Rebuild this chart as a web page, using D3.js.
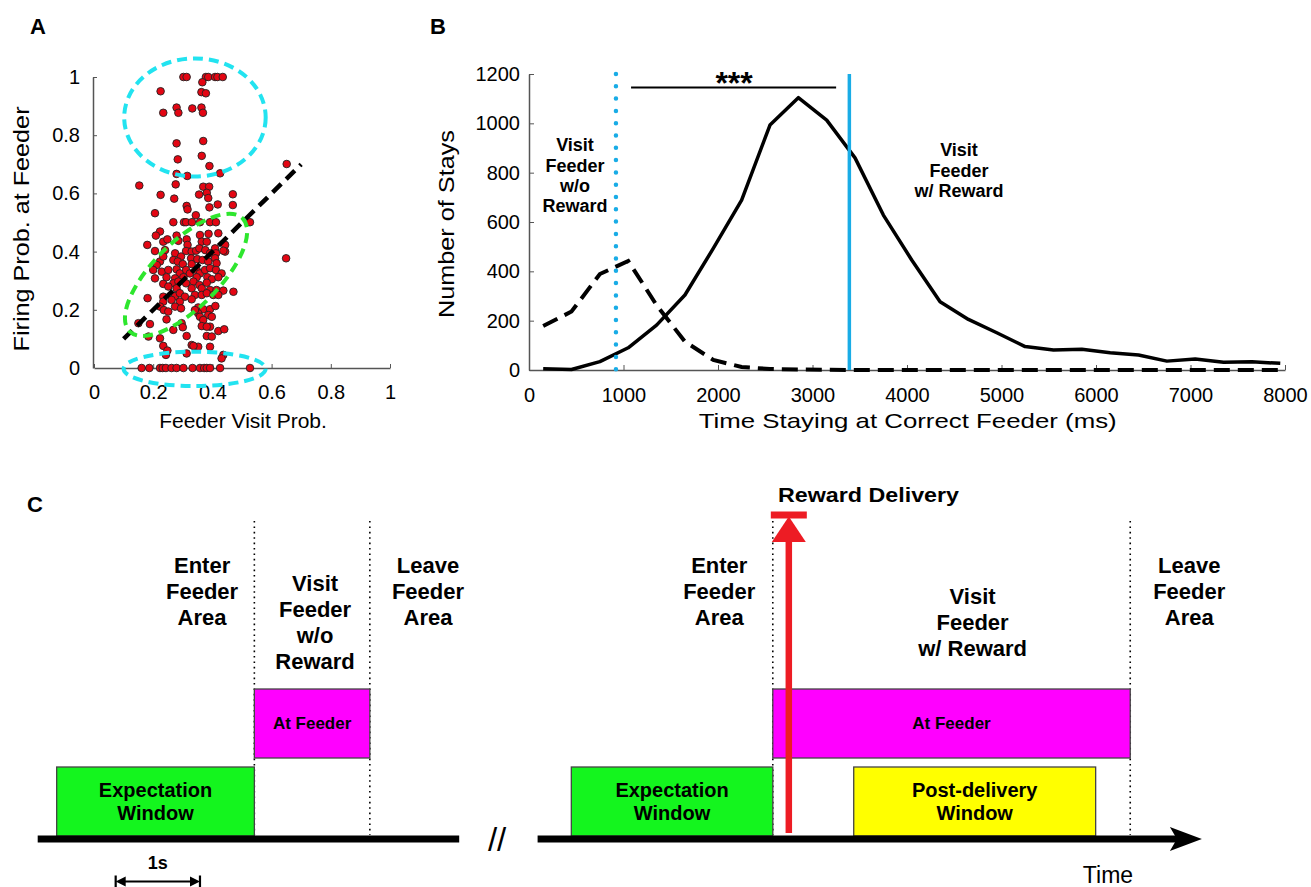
<!DOCTYPE html>
<html>
<head>
<meta charset="utf-8">
<script src="https://cdn.jsdelivr.net/npm/d3@7"></script>
<style>
  body { margin: 0; background: #fff; }
  svg text { font-family: "Liberation Sans", Arial, sans-serif; fill: #000; }
</style>
</head>
<body>
<script>
// ---- panel A data: feeder visit prob vs firing prob (one pair per cell)
const scatterPts = [
  [0.302,1],[0.313,1],[0.378,1],[0.386,1],[0.409,1],[0.417,1],[0.435,1],
  [0.366,0.982],[0.225,0.951],[0.363,0.948],[0.378,0.944],[0.279,0.895],[0.363,0.895],
  [0.234,0.877],[0.285,0.877],[0.332,0.892],[0.368,0.877],
  [0.279,0.772],[0.369,0.780],[0.364,0.729],[0.283,0.717],[0.390,0.694],[0.279,0.667],
  [0.315,0.660],[0.426,0.669],[0.651,0.701],
  [0.153,0.627],[0.276,0.631],[0.369,0.623],[0.389,0.623],[0.225,0.595],[0.271,0.582],
  [0.355,0.596],[0.381,0.602],[0.386,0.584],[0.469,0.597],
  [0.313,0.557],[0.316,0.545],[0.418,0.562],[0.390,0.552],[0.469,0.560],[0.206,0.532],[0.344,0.525],
  [0.268,0.501],[0.304,0.501],[0.311,0.501],[0.331,0.501],[0.358,0.501],[0.392,0.501],[0.412,0.501],[0.527,0.501],
  [0.223,0.469],[0.209,0.455],[0.180,0.423],[0.234,0.434],[0.248,0.442],[0.279,0.455],[0.285,0.437],
  [0.313,0.442],[0.316,0.423],[0.358,0.457],[0.387,0.461],[0.364,0.434],[0.381,0.434],[0.420,0.463],
  [0.443,0.423],[0.443,0.400],[0.409,0.411],
  [0.206,0.402],[0.240,0.405],[0.274,0.394],[0.311,0.402],[0.294,0.383],[0.330,0.400],[0.345,0.403],
  [0.356,0.411],[0.376,0.405],[0.392,0.394],[0.412,0.394],[0.437,0.403],
  [0.223,0.366],[0.268,0.371],[0.283,0.366],[0.300,0.357],[0.328,0.377],[0.330,0.357],[0.349,0.374],
  [0.367,0.371],[0.386,0.366],[0.409,0.377],[0.414,0.360],[0.212,0.354],[0.234,0.383],
  [0.200,0.337],[0.229,0.331],[0.251,0.337],[0.279,0.339],[0.290,0.325],[0.311,0.337],[0.324,0.325],
  [0.347,0.337],[0.358,0.325],[0.375,0.337],[0.392,0.343],[0.412,0.337],[0.431,0.325],[0.206,0.308],
  [0.245,0.312],[0.274,0.308],[0.302,0.312],[0.347,0.312],[0.383,0.312],[0.398,0.305],[0.420,0.312],
  [0.234,0.289],[0.268,0.291],[0.285,0.297],[0.311,0.291],[0.336,0.297],[0.330,0.274],[0.356,0.285],
  [0.364,0.274],[0.381,0.293],[0.392,0.268],[0.414,0.268],[0.437,0.266],[0.471,0.262],[0.279,0.274],[0.251,0.280],
  [0.181,0.240],[0.234,0.245],[0.274,0.247],[0.290,0.257],[0.307,0.245],[0.341,0.251],[0.364,0.251],
  [0.381,0.257],[0.403,0.251],[0.420,0.251],[0.234,0.228],[0.262,0.234],[0.290,0.228],[0.330,0.236],
  [0.223,0.211],[0.236,0.199],[0.274,0.211],[0.294,0.205],[0.352,0.208],[0.369,0.202],[0.392,0.202],
  [0.410,0.213],[0.251,0.194],[0.352,0.188],[0.386,0.182],[0.398,0.176],[0.341,0.199],
  [0.150,0.154],[0.189,0.151],[0.245,0.167],[0.296,0.154],[0.358,0.176],[0.369,0.165],[0.392,0.142],
  [0.364,0.144],[0.300,0.140],[0.268,0.131],[0.420,0.127],[0.440,0.133],[0.381,0.142],
  [0.184,0.108],[0.223,0.102],[0.313,0.110],[0.381,0.110],[0.398,0.108],[0.352,0.073],[0.330,0.079],
  [0.234,0.076],[0.248,0.060],[0.336,0.076],[0.392,0.073],[0.437,0.045],[0.431,0.033],[0.243,0.045],[0.313,0.050],
  [0.649,0.377],
  [0.161,0],[0.187,0],[0.223,0],[0.232,0],[0.243,0],[0.262,0],[0.279,0],[0.302,0],
  [0.333,0],[0.358,0],[0.372,0],[0.381,0],[0.392,0],[0.426,0],[0.527,0]
];
const fitLine = [[0.1, 0.1], [0.7, 0.7]];
const probTicks = [0, 0.2, 0.4, 0.6, 0.8, 1];

// ---- panel B data: histogram of stay durations (bin centres, ms)
const stayBins = [150,450,750,1050,1350,1650,1950,2250,2550,2850,3150,3450,3750,4050,
                  4350,4650,4950,5250,5550,5850,6150,6450,6750,7050,7350,7650,7950];
const rewardStays = [5,2,34,90,182,304,493,689,993,1104,1013,860,628,446,
                     277,205,151,95,81,84,70,61,36,45,31,33,27];
const noRewardStays = [178,237,389,442,263,115,41,12,4,2,1,0,0,0,
                       0,0,0,0,0,0,0,0,0,0,0,0,0];
const noRewardMark = 920, rewardMark = 3390;
const sigSpan = [1080, 3250];
const timeTicks = d3.range(0, 8001, 1000);
const countTicks = d3.range(0, 1201, 200);

// ---- panel C: schematic timeline (seconds)
const timeAxes = [[0, 5], [5.93, 13.81]];
const windows = [
  {start: 0.225, end: 2.57, row: 0, label: ["Expectation", "Window"], fill: "#14f51e"},
  {start: 2.57,  end: 3.94, row: 1, label: ["At Feeder"], fill: "#ff00ff"},
  {start: 6.33,  end: 8.72, row: 0, label: ["Expectation", "Window"], fill: "#14f51e"},
  {start: 8.72,  end: 12.96, row: 1, label: ["At Feeder"], fill: "#ff00ff"},
  {start: 9.68,  end: 12.55, row: 0, label: ["Post-delivery", "Window"], fill: "#ffff00"}
];
const eventLines = [2.57, 3.94, 8.72, 12.96];
const eventLabels = [
  {t: 1.95,  lines: ["Enter", "Feeder", "Area"]},
  {t: 3.29,  lines: ["Visit", "Feeder", "w/o", "Reward"], top: true},
  {t: 4.63,  lines: ["Leave", "Feeder", "Area"]},
  {t: 8.085, lines: ["Enter", "Feeder", "Area"]},
  {t: 11.09, lines: ["Visit", "Feeder", "w/ Reward"], mid: true},
  {t: 13.66, lines: ["Leave", "Feeder", "Area"]}
];
const rewardTime = 8.91;
const scaleBar = [0.925, 1.925];

const W = 1311, H = 887;
const svg = d3.select("body").append("svg").attr("width", W).attr("height", H);
svg.append("rect").attr("width", W).attr("height", H).attr("fill", "#fff");

const panelLetter = (txt, x, y) => svg.append("text").attr("x", x).attr("y", y)
  .attr("font-size", 22).attr("font-weight", "bold").attr("text-anchor", "middle").text(txt);

// ================= PANEL A =================
const xA = d3.scaleLinear().domain([0, 1]).range([94, 390]);
const yA = d3.scaleLinear().domain([0, 1]).range([368, 77]);
const gA = svg.append("g");

const axXA = gA.append("g").attr("transform", "translate(0,368)")
  .call(d3.axisBottom(xA).tickValues(probTicks).tickFormat(d3.format("~g"))
    .tickSizeInner(-4).tickSizeOuter(0).tickPadding(17));
const axYA = gA.append("g").attr("transform", "translate(93,0)")
  .call(d3.axisLeft(yA).tickValues(probTicks).tickFormat(d3.format("~g"))
    .tickSizeInner(-4).tickSizeOuter(0).tickPadding(13));
[axXA, axYA].forEach(a => {
  a.select(".domain").attr("stroke", "#555").attr("stroke-width", 1.5);
  a.selectAll(".tick line").attr("stroke", "#555");
  a.selectAll("text").attr("font-size", 20).attr("font-family", "Liberation Sans, Arial, sans-serif");
});
axYA.selectAll(".tick").filter(d => d === 0).select("line").remove();

gA.selectAll("circle.pt").data(scatterPts).join("circle").attr("class", "pt")
  .attr("cx", d => xA(d[0])).attr("cy", d => yA(d[1])).attr("r", 3.8)
  .attr("fill", "#e30613").attr("stroke", "#222").attr("stroke-width", 0.9);

gA.append("line")
  .attr("x1", xA(fitLine[0][0])).attr("y1", yA(fitLine[0][1]))
  .attr("x2", xA(fitLine[1][0])).attr("y2", yA(fitLine[1][1]))
  .attr("stroke", "#000").attr("stroke-width", 4.5).attr("stroke-dasharray", "12,7");

// highlighted groups
const ellA = (cx, cy, rx, ry, ang, col) => {
  const px = xA(cx), py = yA(cy);
  gA.append("ellipse").attr("cx", px).attr("cy", py)
    .attr("rx", xA(rx) - xA(0)).attr("ry", yA(0) - yA(ry))
    .attr("transform", `rotate(${ang},${px},${py})`)
    .attr("fill", "none").attr("stroke", col).attr("stroke-width", 4)
    .attr("stroke-dasharray", "10,6");
};
ellA(0.341, 0.861, 0.239, 0.203, 0, "#22e3f0");
ellA(0.340, -0.003, 0.240, 0.059, 0, "#22e3f0");
ellA(0.311, 0.320, 0.27, 0.113, -45, "#2ee62e");

gA.append("text").attr("transform", "translate(28.7,229) rotate(-90)")
  .attr("text-anchor", "middle").attr("font-size", 22)
  .attr("textLength", 245).attr("lengthAdjust", "spacingAndGlyphs")
  .text("Firing Prob. at Feeder");
gA.append("text").attr("x", 243).attr("y", 428).attr("text-anchor", "middle")
  .attr("font-size", 21).text("Feeder Visit Prob.");
panelLetter("A", 38, 34);

// ================= PANEL B =================
const xB = d3.scaleLinear().domain([0, 8000]).range([529, 1285]);
const yB = d3.scaleLinear().domain([0, 1200]).range([370, 74]);
const gB = svg.append("g");

const axXB = gB.append("g").attr("transform", "translate(0,370)")
  .call(d3.axisBottom(xB).tickValues(timeTicks).tickFormat(d3.format("d"))
    .tickSizeInner(-5).tickSizeOuter(0).tickPadding(17.5));
const axYB = gB.append("g").attr("transform", "translate(529,0)")
  .call(d3.axisLeft(yB).tickValues(countTicks).tickFormat(d3.format("d"))
    .tickSizeInner(-5).tickSizeOuter(0).tickPadding(9));
[axXB, axYB].forEach(a => {
  a.select(".domain").attr("stroke", "#555").attr("stroke-width", 1.5);
  a.selectAll(".tick line").attr("stroke", "#555");
  a.selectAll("text").attr("font-size", 20).attr("font-family", "Liberation Sans, Arial, sans-serif");
});

const lineB = d3.line().x(d => xB(d[0])).y(d => yB(d[1]));
gB.append("path").datum(d3.zip(stayBins, noRewardStays)).attr("d", lineB)
  .attr("fill", "none").attr("stroke", "#000").attr("stroke-width", 4)
  .attr("stroke-dasharray", "16,8");
gB.append("path").datum(d3.zip(stayBins, rewardStays)).attr("d", lineB)
  .attr("fill", "none").attr("stroke", "#000").attr("stroke-width", 3.5)
  .attr("stroke-linejoin", "round");

gB.append("line").attr("x1", xB(noRewardMark)).attr("x2", xB(noRewardMark))
  .attr("y1", yB(1200)).attr("y2", yB(0))
  .attr("stroke", "#19ace6").attr("stroke-width", 4.5).attr("stroke-linecap", "round")
  .attr("stroke-dasharray", "0,12.3");
gB.append("line").attr("x1", xB(rewardMark)).attr("x2", xB(rewardMark))
  .attr("y1", yB(1200)).attr("y2", yB(0))
  .attr("stroke", "#19ace6").attr("stroke-width", 3.5);

gB.append("line").attr("x1", xB(sigSpan[0])).attr("x2", xB(sigSpan[1]))
  .attr("y1", 87.5).attr("y2", 87.5).attr("stroke", "#000").attr("stroke-width", 2);
gB.append("text").attr("x", (xB(sigSpan[0]) + xB(sigSpan[1])) / 2 + 0.5).attr("y", 94)
  .attr("text-anchor", "middle").attr("font-size", 32).attr("font-weight", "bold").text("***");

const multiLine = (g, x, y0, lines, step, size) => {
  lines.forEach((s, i) => g.append("text").attr("x", x).attr("y", y0 + i * step)
    .attr("dy", "0.35em").attr("text-anchor", "middle").attr("font-size", size)
    .attr("font-weight", "bold").text(s));
};
multiLine(gB, 575, 145, ["Visit", "Feeder", "w/o", "Reward"], 20.3, 18);
multiLine(gB, 959, 150, ["Visit", "Feeder", "w/ Reward"], 20.3, 18);

gB.append("text").attr("transform", "translate(453.5,224) rotate(-90)")
  .attr("text-anchor", "middle").attr("font-size", 21.5)
  .attr("textLength", 188).attr("lengthAdjust", "spacingAndGlyphs")
  .text("Number of Stays");
gB.append("text").attr("x", 907.7).attr("y", 428.3).attr("text-anchor", "middle")
  .attr("font-size", 21).attr("textLength", 418).attr("lengthAdjust", "spacingAndGlyphs")
  .text("Time Staying at Correct Feeder (ms)");
panelLetter("B", 438, 34);

// ================= PANEL C =================
const xC = d3.scaleLinear().domain([0, 5]).range([37.7, 459.2]);
const gC = svg.append("g");
const rowY = [[767, 836], [689, 758]];
const axisY = 839;

// dotted event lines
gC.selectAll("line.ev").data(eventLines).join("line").attr("class", "ev")
  .attr("x1", d => xC(d)).attr("x2", d => xC(d)).attr("y1", 521).attr("y2", 835)
  .attr("stroke", "#000").attr("stroke-width", 1.6).attr("stroke-dasharray", "1.6,3.8");

// windows
windows.forEach(w => {
  const [y0, y1] = rowY[w.row];
  gC.append("rect").attr("x", xC(w.start)).attr("y", y0)
    .attr("width", xC(w.end) - xC(w.start)).attr("height", y1 - y0)
    .attr("fill", w.fill).attr("stroke", "#444").attr("stroke-width", 1.3);
  const cx = (xC(w.start) + xC(w.end)) / 2;
  if (w.label.length === 1) {
    multiLine(gC, cx, (y0 + y1) / 2, w.label, 0, 17);
  } else {
    multiLine(gC, cx, 790, w.label, 22.7, 20);
  }
});

// time axes
gC.append("line").attr("x1", xC(timeAxes[0][0])).attr("x2", xC(timeAxes[0][1]))
  .attr("y1", axisY).attr("y2", axisY).attr("stroke", "#000").attr("stroke-width", 7);
const tipX = xC(timeAxes[1][1]);
gC.append("line").attr("x1", xC(timeAxes[1][0])).attr("x2", tipX - 20)
  .attr("y1", axisY).attr("y2", axisY).attr("stroke", "#000").attr("stroke-width", 7);
gC.append("path")
  .attr("d", `M${tipX},${axisY} L${tipX - 32},${axisY - 12} L${tipX - 25},${axisY} L${tipX - 32},${axisY + 12} Z`)
  .attr("fill", "#000");

gC.append("text").attr("x", xC(5.45)).attr("y", 851).attr("text-anchor", "middle")
  .attr("font-size", 33).text("//");

// reward arrow
const rx = xC(rewardTime);
gC.append("line").attr("x1", rx).attr("x2", rx).attr("y1", 833).attr("y2", 540)
  .attr("stroke", "#ed1c24").attr("stroke-width", 6.5);
gC.append("path").attr("d", `M${rx},516.5 L${rx - 17},542 L${rx + 17},542 Z`).attr("fill", "#ed1c24");
gC.append("rect").attr("x", rx - 18).attr("y", 511.5).attr("width", 36).attr("height", 7)
  .attr("fill", "#ed1c24");
gC.append("text").attr("x", 778).attr("y", 495).attr("dy", "0.35em").attr("font-size", 19.5)
  .attr("font-weight", "bold").attr("textLength", 181).attr("lengthAdjust", "spacingAndGlyphs")
  .text("Reward Delivery");

// event labels
eventLabels.forEach(e => {
  const y0 = e.top ? 583.3 : e.mid ? 596.7 : 565;
  multiLine(gC, xC(e.t), y0, e.lines, 26, 22);
});

// 1 s scale bar
const sb0 = xC(scaleBar[0]), sb1 = xC(scaleBar[1]), sbY = 881.5;
gC.append("line").attr("x1", sb0 + 6).attr("x2", sb1 - 6).attr("y1", sbY).attr("y2", sbY)
  .attr("stroke", "#000").attr("stroke-width", 2);
[[sb0, 1], [sb1, -1]].forEach(([x, s]) => {
  gC.append("line").attr("x1", x).attr("x2", x).attr("y1", sbY - 6).attr("y2", sbY + 5.5)
    .attr("stroke", "#000").attr("stroke-width", 2.2);
  gC.append("path").attr("d", `M${x},${sbY} L${x + s * 10},${sbY - 5} L${x + s * 10},${sbY + 5} Z`)
    .attr("fill", "#000");
});
gC.append("text").attr("x", (sb0 + sb1) / 2).attr("y", 863).attr("dy", "0.35em")
  .attr("text-anchor", "middle").attr("font-size", 18).attr("font-weight", "bold").text("1s");

gC.append("text").attr("x", 1108).attr("y", 875).attr("dy", "0.35em").attr("text-anchor", "middle")
  .attr("font-size", 23).text("Time");
panelLetter("C", 35, 512);
</script>
</body>
</html>
